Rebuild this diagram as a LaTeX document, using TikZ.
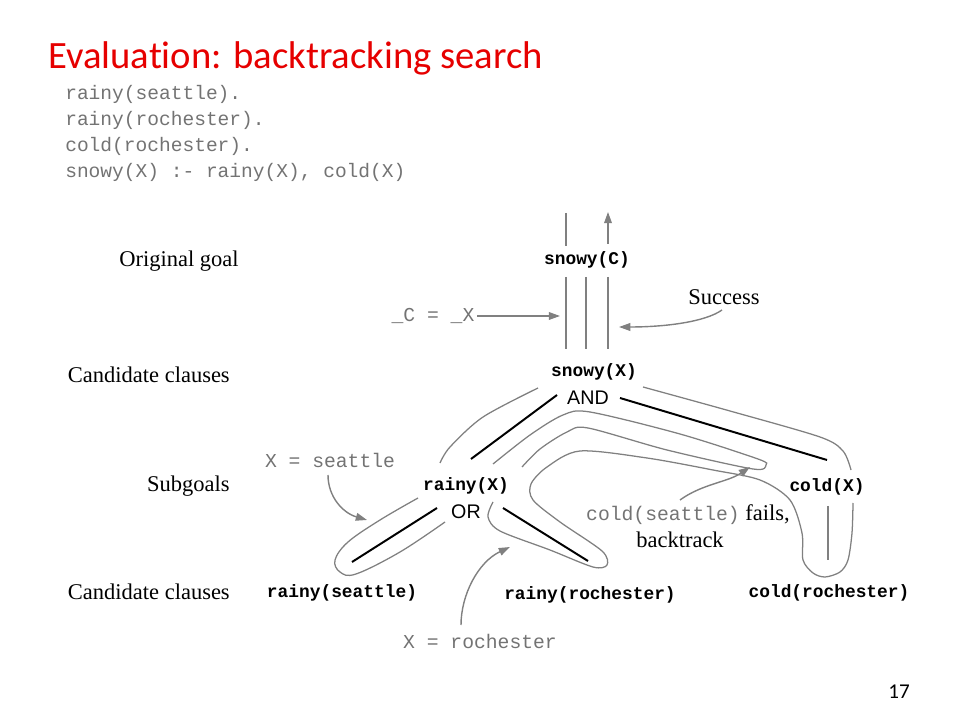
\documentclass[tikz,border=0pt]{standalone}
\usepackage{fontspec}
\usepackage{tikz}
\usetikzlibrary{arrows.meta}
\setmainfont{Liberation Serif}
\newfontfamily\codefont{Liberation Mono}
\newfontfamily\titlefont{Carlito}[Ligatures=CommonOff]
\newfontfamily\opfont{Liberation Sans}
\definecolor{titlered}{RGB}{230,0,0}
\definecolor{tracegray}{RGB}{128,128,128}
\definecolor{codegray}{RGB}{115,115,115}

\begin{document}
\begin{tikzpicture}[x=0.025cm,y=-0.025cm]
  \tikzstyle{goal}=[font=\codefont\bfseries\fontsize{12.7}{14}\selectfont,inner sep=2pt]
  \tikzstyle{op}=[font=\opfont\fontsize{14}{16}\selectfont,inner sep=2pt]
  \tikzstyle{tier}=[font=\fontsize{16}{19}\selectfont,anchor=east,inner sep=0pt]
  \tikzstyle{note}=[font=\codefont\fontsize{14}{16}\selectfont,text=codegray,inner sep=2pt]
  \tikzstyle{code}=[font=\codefont\fontsize{13.9}{16}\selectfont,text=codegray,
                    anchor=base west,inner sep=0pt]
  \tikzstyle{trace}=[draw=tracegray,line width=0.9pt]
  \tikzstyle{link}=[draw=black,line width=1.4pt]
  \tikzstyle{arr}=[draw=tracegray,line width=1pt,
                   -{Triangle[length=8pt,width=5.5pt]}]
  \useasboundingbox (0,0) rectangle (960,720);

  \node[font=\titlefont\fontsize{27.5}{32}\selectfont,text=titlered,
        anchor=base west,inner sep=0pt] (title) at (48,69) {Evaluation: backtracking search};
  \node[code] (fact1) at (65,100) {rainy(seattle).};
  \node[code] (fact2) at (65,126) {rainy(rochester).};
  \node[code] (fact3) at (65,152) {cold(rochester).};
  \node[code] (rule)  at (65,178) {snowy(X) :- rainy(X), cold(X)};

  \node[tier] (tier1) at (239,261) {Original goal};
  \node[tier] (tier2) at (230,375) {Candidate clauses};
  \node[tier] (tier3) at (230,486) {Subgoals};
  \node[tier] (tier4) at (230,592) {Candidate clauses};

  \node[goal] (snowyC) at (587,260) {snowy(C)};
  \node[goal] (snowyX) at (594,372) {snowy(X)};
  \node[op]   (and)    at (588,398) {AND};
  \node[goal] (rainyX) at (466,486) {rainy(X)};
  \node[op]   (or)     at (466,512) {OR};
  \node[goal] (coldX)  at (827,487) {cold(X)};
  \node[goal] (rainy1) at (342,593) {rainy(seattle)};
  \node[goal] (rainy2) at (590,595) {rainy(rochester)};
  \node[goal] (cold1)  at (829,593) {cold(rochester)};

  \node[note] (ceq) at (433,316) {\_C = \_X};
  \node[tier,anchor=center] (success) at (724,297) {Success};
  \node[note] (xs) at (330,460) {X = seattle};
  \node[note] (xr) at (480,641) {X = rochester};
  \node[note] (fail) at (688,515) {cold(seattle){\rmfamily\color{black}\fontsize{16}{19}\selectfont\ fails,}};
  \node[tier,anchor=center] (back) at (680,540) {backtrack};
  \node[font=\titlefont\fontsize{15}{18}\selectfont] (page) at (899,692) {17};

  \coordinate (in1)  at (566,213);
  \coordinate (out1) at (608,212);
  \coordinate (hit1) at (560,316);
  \coordinate (hit2) at (619,327);
  \coordinate (hit3) at (367,520);
  \coordinate (hit4) at (510,547);
  \coordinate (hit5) at (750,467);

  \draw[trace] (in1) -- ([shift={(-21,-14)}]snowyC.center);
  \draw[arr] ([shift={(21,-16)}]snowyC.center) -- (out1);
  \draw[trace] ([shift={(-21,17)}]snowyC.center) -- ([shift={(-28,-23)}]snowyX.center);
  \draw[trace] ([shift={(-1,17)}]snowyC.center) -- ([shift={(-8,-23)}]snowyX.center);
  \draw[trace] ([shift={(21,17)}]snowyC.center) -- ([shift={(14,-23)}]snowyX.center);

  \draw[link] ([shift={(-31,-3)}]and.center) -- ([shift={(5,-27)}]rainyX.center);
  \draw[link] ([shift={(32,0)}]and.center) -- ([shift={(0,-27)}]coldX.center);
  \draw[link] ([shift={(-29,-4)}]or.center) -- ([shift={(10,-31)}]rainy1.center);
  \draw[link] ([shift={(37,-4)}]or.center) -- ([shift={(-2,-34)}]rainy2.center);
  \draw[trace,line width=1.5pt] ([shift={(1,19)}]coldX.center) -- ([shift={(-1,-33)}]cold1.center);

  \draw[trace] plot[smooth] coordinates {(538,388) (483,417) (450,447) (440,463)};
  \draw[trace] plot[smooth,tension=0.6] coordinates {(418,498) (380,520) (348,542)
      (335,560) (340,572) (356,574) (400,552) (445,522)};
  \draw[trace] plot[smooth,tension=0.5] coordinates {(493,464) (530,435) (563,415)
      (590,412) (680,434) (758,459) (766,465) (753,469) (667,450) (588,428)
      (567,432) (540,449) (522,467)};
  \draw[trace] plot[smooth,tension=0.5] coordinates {(493,502) (488,517) (500,531)
      (550,550) (593,567) (607,565) (602,551) (560,522) (533,500) (531,484)
      (547,467) (580,451) (647,458) (713,470) (760,480) (790,500) (802,533)
      (803,560) (813,573) (825,577) (840,572) (848,560) (852,533) (853,503)};
  \draw[trace] plot[smooth,tension=0.5] coordinates {(643,387) (730,411) (820,437)
      (843,451) (851,470)};

  \draw[arr] (ceq) -- (hit1);
  \draw[arr] ([shift={(-2,13)}]success.center) .. controls (705,322) and (665,327) .. (hit2);
  \draw[arr] ([shift={(-2,15)}]xs.center) .. controls (328,497) and (343,513) .. (hit3);
  \draw[arr] ([shift={(-19,-16)}]xr.center) .. controls (461,595) and (478,562) .. (hit4);
  \draw[arr] ([shift={(-8,-15)}]fail.center) .. controls (702,484) and (728,482) .. (hit5);
\end{tikzpicture}
\end{document}
